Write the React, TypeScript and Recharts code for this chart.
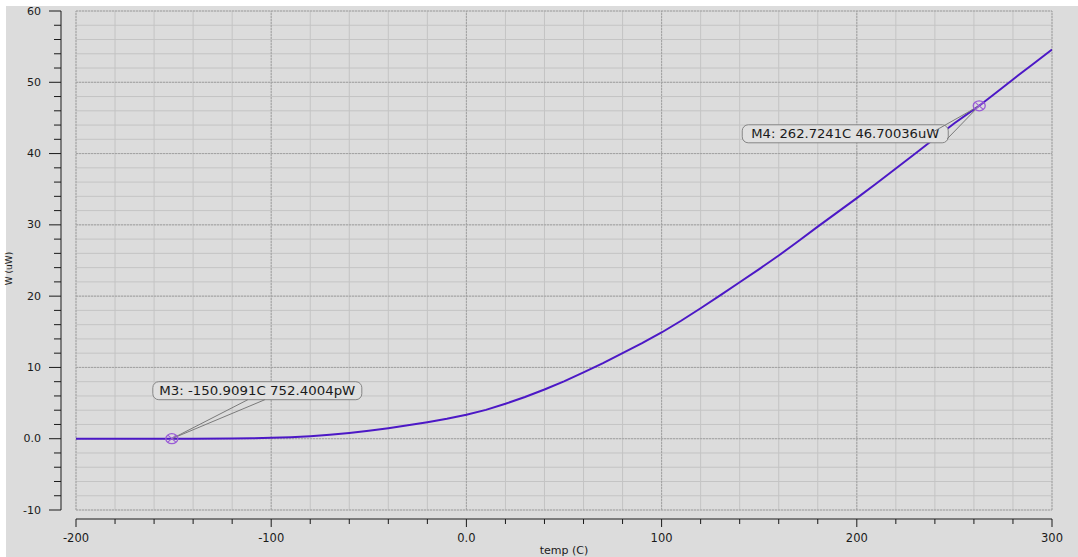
import { LineChart, Line, XAxis, YAxis, CartesianGrid, ReferenceLine, ReferenceDot } from "recharts";

// temperature sweep (C) and power (uW)
const TEMP = [
  -200, -180, -160, -150.9091, -140, -120, -110, -100, -90, -80, -70, -60, -50, -40, -30, -20, -10,
  0, 10, 20, 30, 40, 50, 60, 70, 80, 90, 100, 110, 120, 130, 140, 150, 160, 170, 180, 190, 200,
  210, 220, 230, 240, 250, 260, 262.7241, 270, 280, 290, 300,
];
const POWER = [
  0, 0, 0, 0.00075, 0.005, 0.03, 0.06, 0.12, 0.2, 0.34, 0.54, 0.8, 1.12, 1.48, 1.88, 2.32, 2.8,
  3.35, 4.05, 4.9, 5.85, 6.9, 8.05, 9.3, 10.6, 12.0, 13.4, 14.9, 16.55, 18.3, 20.1, 21.95, 23.8, 25.7, 27.7, 29.75, 31.75, 33.75,
  35.8, 37.9, 40.0, 42.15, 44.25, 46.2, 46.70036, 48.25, 50.4, 52.5, 54.6,
];

const X_TICKS = [-200, -180, -160, -140, -120, -100, -80, -60, -40, -20, 0, 20, 40, 60, 80, 100, 120, 140, 160, 180, 200, 220, 240, 260, 280, 300];
const X_MAJOR = [-200, -100, 0, 100, 200, 300];
const Y_TICKS = [-10, -8, -6, -4, -2, 0, 2, 4, 6, 8, 10, 12, 14, 16, 18, 20, 22, 24, 26, 28, 30, 32, 34, 36, 38, 40, 42, 44, 46, 48, 50, 52, 54, 56, 58, 60];
const Y_MAJOR = [-10, 0, 10, 20, 30, 40, 50, 60];

// markers M3 / M4
const MARKER_X = [-150.9091, 262.7241];
const MARKER_Y = [0.0007524004, 46.70036];
const MARKER_TEXT = ["M3: -150.9091C 752.4004pW", "M4: 262.7241C 46.70036uW"];

const data = TEMP.map((t, i) => ({ temp: t, power: POWER[i] }));

const FONT = '"DejaVu Sans", Verdana, sans-serif';
const INK = "#1a1a1a";
const BG = "#dcdcdc";
const TRACE = "#4c18c6";

const fmt = (v: number) => (v === 0 ? "0.0" : String(v));

// label box placement relative to each marker (px)
const BOXES = [
  { bx: -19, by: -57, bw: 209, bh: 18, tl: 196, w: [[76, -39], [93, -39]] },
  { bx: -237, by: 19, bw: 206, bh: 18, tl: 188, w: [[-46, 26], [-32, 33]] },
];

function XTick(props: any) {
  const { x, y, payload } = props;
  const v = payload.value as number;
  const major = X_MAJOR.includes(v);
  return (
    <g>
      <line x1={x} x2={x} y1={y + 9} y2={y + 9 + (major ? 8 : 5)} stroke={INK} />
      {major && (
        <text x={x} y={y + 28} textAnchor="middle" dominantBaseline="central" fontSize={11.5} fontFamily={FONT} fill={INK}>
          {fmt(v)}
        </text>
      )}
    </g>
  );
}

function YTick(props: any) {
  const { x, y, payload } = props;
  const v = payload.value as number;
  const major = Y_MAJOR.includes(v);
  return (
    <g>
      <line x1={x - 15} x2={x - 15 - (major ? 12 : 7)} y1={y} y2={y} stroke={INK} />
      {major && (
        <text x={x - 35} y={y} textAnchor="end" dominantBaseline="central" fontSize={11} fontFamily={FONT} fill={INK}>
          {fmt(v)}
        </text>
      )}
    </g>
  );
}

function YTitle(props: any) {
  const vb = props.viewBox || { x: 0, y: 11, width: 76, height: 499 };
  const cx = 9;
  const cy = vb.y + vb.height / 2 + 8;
  return (
    <text x={cx} y={cy} transform={`rotate(-90 ${cx} ${cy})`} textAnchor="middle" dominantBaseline="central" fontSize={9} fontFamily={FONT} fill={INK}>
      W (uW)
    </text>
  );
}

const markerShape = (i: number) => (p: any) => {
  const { cx, cy } = p;
  const b = BOXES[i];
  return (
    <g>
      <rect x={cx + b.bx} y={cy + b.by} width={b.bw} height={b.bh} rx={6} fill="#e0e0e0" stroke="#858585" />
      <text
        x={cx + b.bx + b.bw / 2}
        y={cy + b.by + b.bh / 2 + 0.5}
        textAnchor="middle"
        dominantBaseline="central"
        textLength={b.tl}
        lengthAdjust="spacingAndGlyphs"
        fontSize={11.5}
        fontFamily={FONT}
        fill={INK}
      >
        {MARKER_TEXT[i]}
      </text>
      {b.w.map(([dx, dy], k) => (
        <line key={k} x1={cx} y1={cy} x2={cx + dx} y2={cy + dy} stroke="#7a7a7a" />
      ))}
      <ellipse cx={cx} cy={cy} rx={6} ry={5} fill="none" stroke="#9a5cd6" strokeWidth={1.3} />
      <line x1={cx - 4} y1={cy - 3.5} x2={cx + 4} y2={cy + 3.5} stroke="#9a5cd6" strokeWidth={1.1} />
      <line x1={cx - 4} y1={cy + 3.5} x2={cx + 4} y2={cy - 3.5} stroke="#9a5cd6" strokeWidth={1.1} />
    </g>
  );
};

export default function App() {
  return (
    <div style={{ position: "absolute", left: 0, top: 0, width: 1078, height: 557, background: "#fff" }}>
      <div style={{ position: "absolute", left: 6, top: 6, width: 1072, height: 551, background: BG }} />
      <div style={{ position: "absolute", left: 0, top: 0 }}>
        <LineChart width={1078} height={557} data={data} margin={{ top: 11, right: 26, left: 0, bottom: 0 }}>
          <CartesianGrid stroke="#c4c4c4" strokeWidth={1} />
          <XAxis
            dataKey="temp"
            type="number"
            domain={[-200, 300]}
            ticks={X_TICKS}
            interval={0}
            height={47}
            tickSize={0}
            tickMargin={0}
            tickLine={false}
            axisLine={{ stroke: INK, transform: "translate(0, 9)" }}
            tick={<XTick />}
            allowDataOverflow
            label={{ value: "temp (C)", position: "insideBottom", offset: 3, fontSize: 11, fontFamily: FONT, fill: INK }}
          />
          <YAxis
            type="number"
            domain={[-10, 60]}
            ticks={Y_TICKS}
            interval={0}
            width={76}
            tickSize={0}
            tickMargin={0}
            tickLine={false}
            axisLine={{ stroke: INK, transform: "translate(-15, 0)" }}
            tick={<YTick />}
            allowDataOverflow
            label={<YTitle />}
          />
          {X_MAJOR.map((v) => (
            <ReferenceLine key={"x" + v} x={v} stroke="#a2a2a2" strokeDasharray="2 1" />
          ))}
          {Y_MAJOR.map((v) => (
            <ReferenceLine key={"y" + v} y={v} stroke="#a2a2a2" strokeDasharray="2 1" />
          ))}
          <Line type="linear" dataKey="power" stroke={TRACE} strokeWidth={2} dot={false} isAnimationActive={false} />
          {MARKER_X.map((mx, i) => (
            <ReferenceDot key={i} x={mx} y={MARKER_Y[i]} r={5} shape={markerShape(i)} />
          ))}
        </LineChart>
      </div>
    </div>
  );
}
